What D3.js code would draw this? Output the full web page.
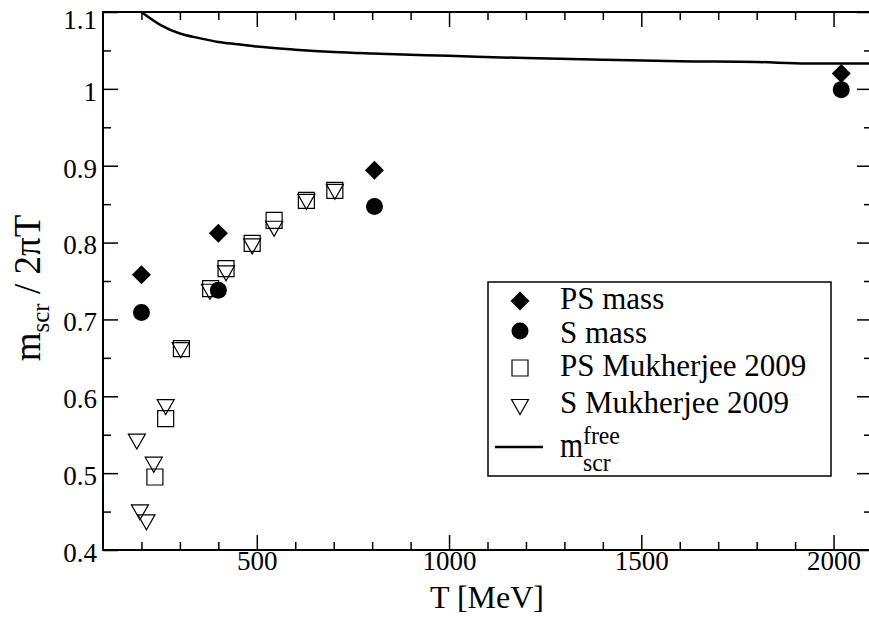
<!DOCTYPE html>
<html>
<head>
<meta charset="utf-8">
<script src="https://cdn.jsdelivr.net/npm/d3@7"></script>
<style>
  body { margin: 0; background: #fff; }
  svg text { font-family: "Liberation Serif", "Times New Roman", serif; fill: #000; }
</style>
</head>
<body>
<svg width="869" height="618"></svg>
<script>
// data
var psMassT = [200, 400, 806, 2020];
var psMassV = [0.758, 0.812, 0.894, 1.020];
var sMassT = [200, 400, 806, 2020];
var sMassV = [0.709, 0.738, 0.847, 0.999];
var psMukT = [235, 263, 304, 380, 420, 488, 545, 629, 703];
var psMukV = [0.495, 0.571, 0.662, 0.740, 0.766, 0.799, 0.829, 0.855, 0.868];
var sMukT = [188, 196, 213, 232, 263, 302, 378, 420, 488, 545, 629, 703];
var sMukV = [0.541, 0.449, 0.436, 0.511, 0.586, 0.660, 0.736, 0.760, 0.795, 0.818, 0.853, 0.866];
var freeT = [200, 250, 300, 350, 400, 450, 500, 600, 700, 800, 1000, 1200, 1400, 1600, 1800, 1930, 2100];
var freeV = [1.100, 1.083, 1.072, 1.066, 1.061, 1.058, 1.055, 1.051, 1.048, 1.046, 1.043, 1.040, 1.038, 1.036, 1.035, 1.033, 1.033];
var xTicks = [500, 1000, 1500, 2000];
var yTicks = [0.4, 0.5, 0.6, 0.7, 0.8, 0.9, 1.0, 1.1];

var svg = d3.select('svg');
var serif = '"Liberation Serif", "Times New Roman", serif';

var x = d3.scaleLinear().domain([100, 2100]).range([103, 872]);
var y = d3.scaleLinear().domain([0.4, 1.1]).range([550, 12]);

var xMinor = d3.range(200, 2100, 100).filter(d => d % 500 !== 0);
var yMinor = d3.range(0.45, 1.1, 0.1);

function styleAxis(g) {
    g.attr('font-family', serif);
    g.select('.domain').remove();
    g.selectAll('line').attr('stroke', '#000').attr('stroke-width', 1.5);
    g.selectAll('text').style('font-size', '27px').style('font-family', serif);
}

// bottom
svg.append('g').attr('transform', 'translate(0,550)')
    .call(d3.axisBottom(x).tickValues(xTicks).tickSize(-15).tickPadding(1).tickFormat(d3.format('d')))
    .call(styleAxis);
svg.append('g').attr('transform', 'translate(0,550)')
    .call(d3.axisBottom(x).tickValues(xMinor).tickSize(-8).tickFormat(''))
    .call(styleAxis);
// top
svg.append('g').attr('transform', 'translate(0,12)')
    .call(d3.axisTop(x).tickValues(xTicks).tickSize(-15).tickFormat(''))
    .call(styleAxis);
svg.append('g').attr('transform', 'translate(0,12)')
    .call(d3.axisTop(x).tickValues(xMinor).tickSize(-8).tickFormat(''))
    .call(styleAxis);
// left
var yAxisG = svg.append('g').attr('transform', 'translate(103,0)')
    .call(d3.axisLeft(y).tickValues(yTicks).tickSize(-15).tickPadding(6)
        .tickFormat(d => d === 1 ? '1' : d3.format('.1f')(d)))
    .call(styleAxis);
yAxisG.selectAll('text').attr('dy', d => d === 1.1 ? '0.62em' : '0.42em');
svg.append('g').attr('transform', 'translate(103,0)')
    .call(d3.axisLeft(y).tickValues(yMinor).tickSize(-8).tickFormat(''))
    .call(styleAxis);
// right
svg.append('g').attr('transform', 'translate(872,0)')
    .call(d3.axisRight(y).tickValues(yTicks).tickSize(-15).tickFormat(''))
    .call(styleAxis);
svg.append('g').attr('transform', 'translate(872,0)')
    .call(d3.axisRight(y).tickValues(yMinor).tickSize(-8).tickFormat(''))
    .call(styleAxis);

// frame
svg.append('rect')
    .attr('x', x(100)).attr('y', y(1.1))
    .attr('width', x(2100) - x(100)).attr('height', y(0.4) - y(1.1))
    .attr('fill', 'none').attr('stroke', '#000').attr('stroke-width', 2);

// axis titles
svg.append('text')
    .attr('x', 487).attr('y', 608)
    .attr('text-anchor', 'middle')
    .style('font-size', '32px')
    .text('T [MeV]');

var yTitle = svg.append('text')
    .attr('transform', 'translate(40,288) rotate(-90)')
    .attr('text-anchor', 'middle')
    .style('font-size', '37px');
yTitle.append('tspan').text('m');
yTitle.append('tspan').attr('dy', 9).style('font-size', '25px').text('scr');
yTitle.append('tspan').attr('dy', -9).text(' / 2\u03c0T');

// markers
var diamond = 'M0,-9.5L9.5,0L0,9.5L-9.5,0Z';
var square = 'M-8,-8H8V8H-8Z';
var triDown = 'M-8.5,-7.5L8.5,-7.5L0,7.5Z';

var plot = svg.append('g');

// free line
var line = d3.line().x(d => x(d[0])).y(d => y(d[1])).curve(d3.curveMonotoneX);
plot.append('path')
    .datum(freeT.map((t, i) => [t, freeV[i]]))
    .attr('d', line)
    .attr('fill', 'none').attr('stroke', '#000').attr('stroke-width', 2.5);

plot.selectAll('.psmuk').data(psMukT).enter().append('path')
    .attr('class', 'psmuk')
    .attr('transform', (d, i) => `translate(${x(d)},${y(psMukV[i])})`)
    .attr('d', square).attr('fill', 'none').attr('stroke', '#000').attr('stroke-width', 1.2);

plot.selectAll('.smuk').data(sMukT).enter().append('path')
    .attr('class', 'smuk')
    .attr('transform', (d, i) => `translate(${x(d)},${y(sMukV[i])})`)
    .attr('d', triDown).attr('fill', 'none').attr('stroke', '#000').attr('stroke-width', 1.2);

plot.selectAll('.psmass').data(psMassT).enter().append('path')
    .attr('class', 'psmass')
    .attr('transform', (d, i) => `translate(${x(d)},${y(psMassV[i])})`)
    .attr('d', diamond).attr('fill', '#000');

plot.selectAll('.smass').data(sMassT).enter().append('circle')
    .attr('class', 'smass')
    .attr('cx', d => x(d)).attr('cy', (d, i) => y(sMassV[i]))
    .attr('r', 8.5).attr('fill', '#000');

// legend
var legend = svg.append('g');
legend.append('rect')
    .attr('x', 488).attr('y', 282).attr('width', 343).attr('height', 194)
    .attr('fill', '#fff').attr('stroke', '#000').attr('stroke-width', 1.5);

var legendItems = [
    { label: 'PS mass', sy: 301, ty: 309, sym: 'diamond' },
    { label: 'S mass', sy: 331, ty: 343, sym: 'circle' },
    { label: 'PS Mukherjee 2009', sy: 368, ty: 376, sym: 'square' },
    { label: 'S Mukherjee 2009', sy: 407, ty: 413, sym: 'tri' }
];
legendItems.forEach(function(it) {
    if (it.sym === 'circle') {
        legend.append('circle').attr('cx', 520).attr('cy', it.sy).attr('r', 8.5).attr('fill', '#000');
    } else {
        var d = it.sym === 'diamond' ? diamond : it.sym === 'square' ? square : triDown;
        legend.append('path').attr('transform', `translate(520,${it.sy})`).attr('d', d)
            .attr('fill', it.sym === 'diamond' ? '#000' : 'none')
            .attr('stroke', '#000').attr('stroke-width', it.sym === 'diamond' ? 0 : 1.2);
    }
    legend.append('text')
        .attr('x', 560).attr('y', it.ty)
        .style('font-size', '31px')
        .text(it.label);
});
legend.append('line')
    .attr('x1', 495).attr('x2', 543).attr('y1', 447).attr('y2', 447)
    .attr('stroke', '#000').attr('stroke-width', 2.5);
legend.append('text')
    .attr('transform', 'translate(560,457) scale(0.85,1)')
    .style('font-size', '35px').text('m');
legend.append('text')
    .attr('transform', 'translate(583,444) scale(0.95,1)')
    .style('font-size', '25px').text('free');
legend.append('text')
    .attr('transform', 'translate(583,471) scale(0.95,1)')
    .style('font-size', '25px').text('scr');
</script>
</body>
</html>
